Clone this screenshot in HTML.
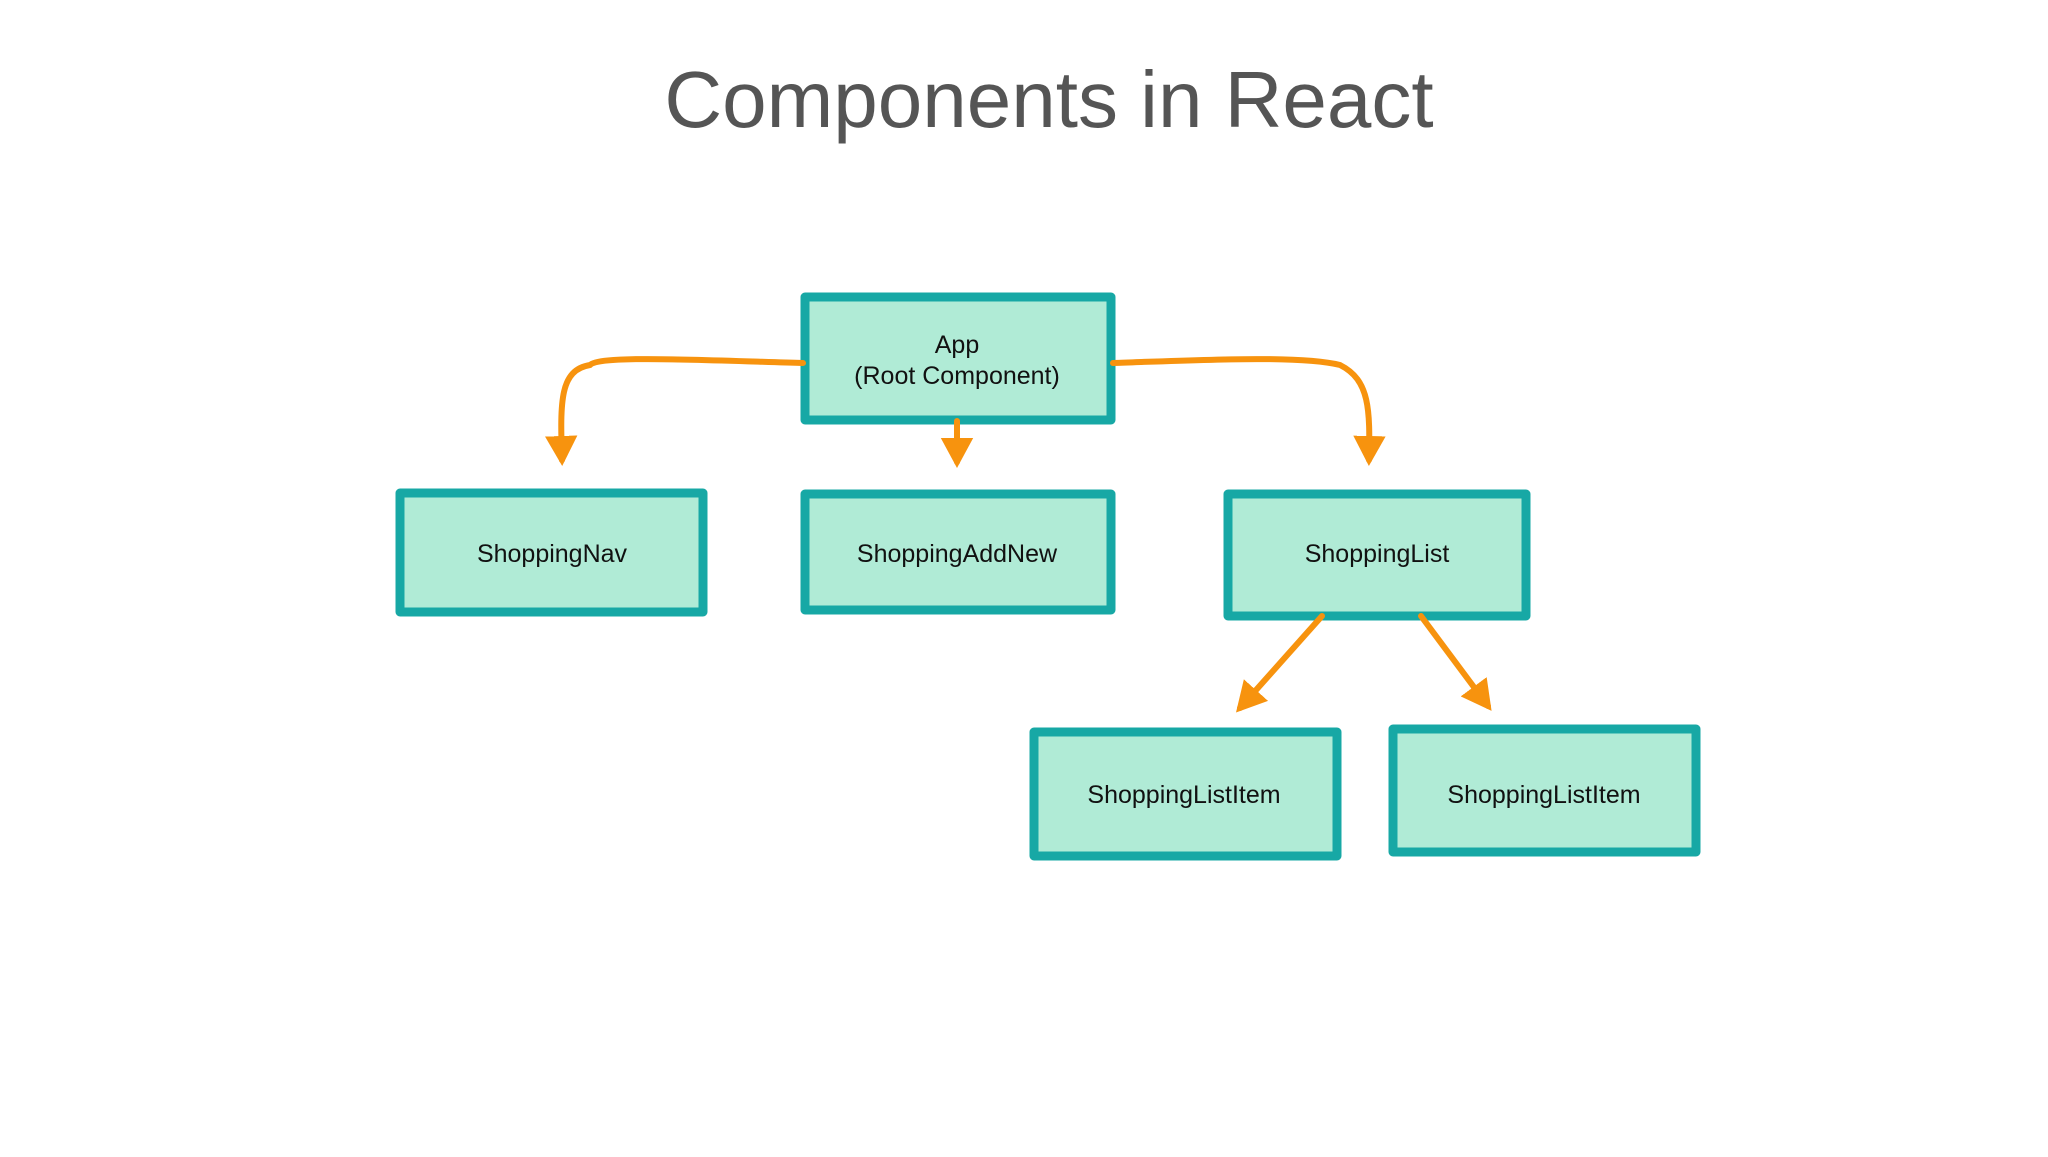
<!DOCTYPE html>
<html><head><style>
body{margin:0;width:2048px;height:1152px;background:#fff;overflow:hidden;font-family:"Liberation Sans",sans-serif}
</style></head><body>
<svg width="2048" height="1152" viewBox="0 0 2048 1152" xmlns="http://www.w3.org/2000/svg">
<defs><marker id="a" markerWidth="6" markerHeight="6" refX="4" refY="3" orient="auto" markerUnits="strokeWidth"><path d="M0,0.3 L5,3 L0,5.7 Z" fill="#f7930e"/></marker></defs>
<text x="1049" y="127" text-anchor="middle" font-family="Liberation Sans, sans-serif" font-size="80" fill="#555">Components in React</text>
<g fill="#b0ebd6" stroke="#17a8a5" stroke-width="9" stroke-linejoin="round">
<rect x="805" y="297" width="306" height="123"/>
<rect x="400" y="493" width="303" height="119"/>
<rect x="805" y="494" width="306" height="116"/>
<rect x="1228" y="494" width="298" height="122"/>
<rect x="1034" y="732" width="303" height="124"/>
<rect x="1393" y="729" width="303" height="123"/>
</g>
<g fill="none" stroke="#f7930e" stroke-width="6" stroke-linecap="round">
<path d="M803,363 C700,360 600,355 590,365 C560,370 560,400 562,460" marker-end="url(#a)"/>
<path d="M1113,363 C1200,360 1300,355 1340,365 C1370,380 1370,410 1369,460" marker-end="url(#a)"/>
<path d="M957,421 L957,462" marker-end="url(#a)"/>
<path d="M1322,616 L1240,708" marker-end="url(#a)"/>
<path d="M1421,616 L1488,706" marker-end="url(#a)"/>
</g>
<g font-family="Liberation Sans, sans-serif" font-size="25" fill="#111" text-anchor="middle">
<text x="957" y="353">App</text>
<text x="957" y="384">(Root Component)</text>
<text x="552" y="562">ShoppingNav</text>
<text x="957" y="562">ShoppingAddNew</text>
<text x="1377" y="562">ShoppingList</text>
<text x="1184" y="803">ShoppingListItem</text>
<text x="1544" y="803">ShoppingListItem</text>
</g>
</svg>
</body></html>
